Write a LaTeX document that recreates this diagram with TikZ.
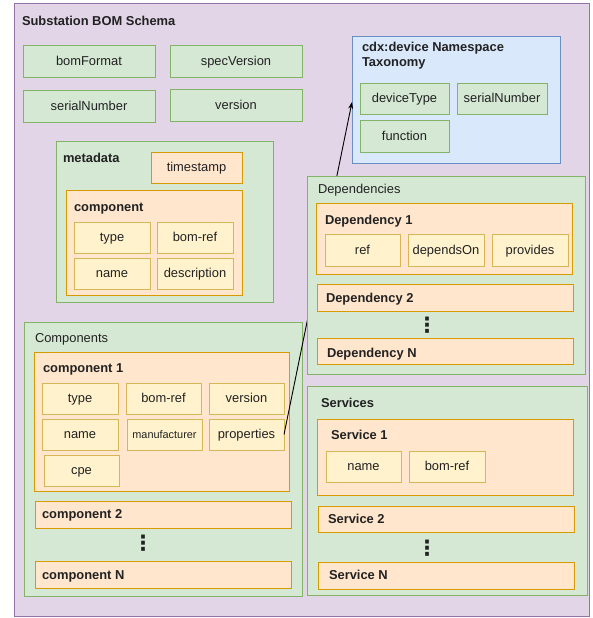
\documentclass[tikz,border=0pt]{standalone}
\usepackage{fontspec}
\setmainfont{Liberation Sans}
\newfontfamily\dotsfont{DejaVu Sans}
\usetikzlibrary{arrows.meta}
\definecolor{purpF}{HTML}{E1D5E7}\definecolor{purpD}{HTML}{9673A6}
\definecolor{greenF}{HTML}{D5E8D4}\definecolor{greenD}{HTML}{82B366}
\definecolor{orF}{HTML}{FFE6CC}\definecolor{orD}{HTML}{D79B00}
\definecolor{yeF}{HTML}{FFF2CC}\definecolor{yeD}{HTML}{D6B656}
\definecolor{blF}{HTML}{DAE8FC}\definecolor{blD}{HTML}{6C8EBF}
\definecolor{txt}{HTML}{222222}
\newcommand\bx[7]{\node[#1, minimum width={(#5-#3)*1pt}, minimum height={(#6-#4)*1pt}] (#2) at ({(#3+#5)/2},{(#4+#6)/2}) {#7};}
\begin{document}
\begin{tikzpicture}[x=1pt,y=-1pt,
  every node/.style={inner sep=0pt, outer sep=0pt, text=txt, font=\fontsize{12.9}{15}\selectfont},
  boxbase/.style={draw, line width=1pt, rectangle, text height=10.5pt, text depth=2.1pt},
  purplebox/.style={boxbase, fill=purpF, draw=purpD},
  greenbox/.style={boxbase, fill=greenF, draw=greenD},
  orangebox/.style={boxbase, fill=orF, draw=orD},
  yellowbox/.style={boxbase, fill=yeF, draw=yeD},
  bluebox/.style={boxbase, fill=blF, draw=blD},
  lbl/.style={anchor=base west},
  blbl/.style={anchor=base west, font=\fontsize{12.9}{15}\selectfont\bfseries},
  vdots/.style={font=\fontsize{21}{21}\selectfont\bfseries\dotsfont},
  link/.style={draw=black, line width=0.9pt, -{Stealth[length=7pt,width=5pt]}}
]
\useasboundingbox (0,0) rectangle (592,618);
% outer
\bx{purplebox}{outer}{14}{4}{589}{616}{}
\node[blbl] (title) at (22,26) {Substation BOM Schema};
% top fields
\bx{greenbox}{bomformat}{23}{46}{155}{77}{bomFormat}
\bx{greenbox}{specversion}{170}{46}{302}{77}{specVersion}
\bx{greenbox}{serialnumber}{23}{90}{155}{122}{serialNumber}
\bx{greenbox}{version}{170}{89}{302}{121}{version}
% metadata
\bx{greenbox}{metadata}{56}{141}{273}{302}{}
\node[blbl] (metadatal) at (63,162) {metadata};
\bx{orangebox}{timestamp}{151}{152}{242}{183}{timestamp}
\bx{orangebox}{mcomp}{66}{190}{242}{295}{}
\node[blbl] (mcompl) at (74,211) {component};
\bx{yellowbox}{mtype}{74}{222}{150}{253}{type}
\bx{yellowbox}{mbomref}{157}{222}{233}{253}{bom-ref}
\bx{yellowbox}{mname}{74}{258}{150}{289}{name}
\bx{yellowbox}{mdesc}{157}{258}{233}{289}{description}
% cdx device
\bx{bluebox}{cdx}{352}{37}{560}{163}{}
\node[blbl, align=left, anchor=north west] (cdxl) at (362,42) {cdx:device Namespace\\Taxonomy};
\bx{greenbox}{devtype}{360}{83}{449}{114}{deviceType}
\bx{greenbox}{devserial}{457}{83}{547}{114}{serialNumber}
\bx{greenbox}{devfunc}{360}{120}{449}{152}{function}
% Components
\bx{greenbox}{components}{24}{322}{302}{596}{}
\node[lbl] (componentsl) at (35,342) {Components};
\bx{orangebox}{comp1}{34}{352}{289}{491}{}
\node[blbl] (comp1l) at (43,372) {component 1};
\bx{yellowbox}{ctype}{42}{383}{118}{414}{type}
\bx{yellowbox}{cbomref}{126}{383}{201}{414}{bom-ref}
\bx{yellowbox}{cversion}{209}{383}{284}{414}{version}
\bx{yellowbox}{cname}{42}{419}{118}{450}{name}
\bx{yellowbox}{cmanu}{127}{419}{202}{450}{\fontsize{10.9}{12}\selectfont manufacturer}
\bx{yellowbox}{cprops}{209}{419}{284}{450}{properties}
\bx{yellowbox}{ccpe}{44}{455}{119}{486}{cpe}
\bx{orangebox}{comp2}{35}{501}{291}{528}{}
\node[blbl] (comp2l) at (42,518) {component 2};
\node[vdots] (cdots) at (143,543) {⋮};
\bx{orangebox}{compn}{35}{561}{291}{588}{}
\node[blbl] (compnl) at (42,579) {component N};
% link
\draw[link] (cprops.east) -- ([yshift=-65pt]cdx.north west);
% Dependencies
\bx{greenbox}{deps}{307}{176}{585}{374}{}
\node[lbl] (depsl) at (318,193) {Dependencies};
\bx{orangebox}{dep1}{316}{203}{572}{274}{}
\node[blbl] (dep1l) at (325,224) {Dependency 1};
\bx{yellowbox}{dref}{325}{234}{400}{266}{ref}
\bx{yellowbox}{ddepon}{408}{234}{484}{266}{dependsOn}
\bx{yellowbox}{dprov}{492}{234}{568}{266}{provides}
\bx{orangebox}{dep2}{317}{284}{573}{311}{}
\node[blbl] (dep2l) at (326,302) {Dependency 2};
\node[vdots] (ddots) at (427,325) {⋮};
\bx{orangebox}{depn}{317}{338}{573}{364}{}
\node[blbl] (depnl) at (327,357) {Dependency N};
% Services
\bx{greenbox}{servs}{307}{386}{587}{595}{}
\node[blbl] (servsl) at (321,407) {Services};
\bx{orangebox}{serv1}{317}{419}{573}{495}{}
\node[blbl] (serv1l) at (331,439) {Service 1};
\bx{yellowbox}{sname}{326}{451}{401}{482}{name}
\bx{yellowbox}{sbomref}{409}{451}{485}{482}{bom-ref}
\bx{orangebox}{serv2}{318}{506}{574}{532}{}
\node[blbl] (serv2l) at (328,523) {Service 2};
\node[vdots] (sdots) at (427,548) {⋮};
\bx{orangebox}{servn}{318}{562}{574}{589}{}
\node[blbl] (servnl) at (329,579) {Service N};
\end{tikzpicture}
\end{document}
